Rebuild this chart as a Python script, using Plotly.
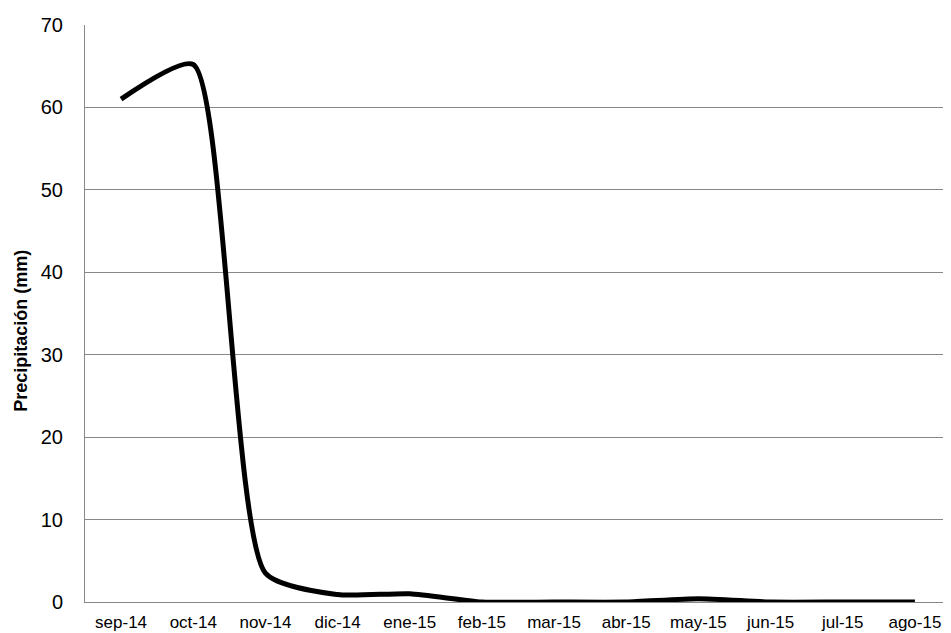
import plotly.graph_objects as go

months = ["sep-14", "oct-14", "nov-14", "dic-14", "ene-15", "feb-15", "mar-15",
          "abr-15", "may-15", "jun-15", "jul-15", "ago-15"]
precip = [61.0, 65.2, 3.5, 0.9, 1.0, 0.0, 0.0, 0.0, 0.4, 0.0, 0.0, 0.0]
y_ticks = [0, 10, 20, 30, 40, 50, 60, 70]

fig = go.Figure()
fig.add_trace(go.Scatter(
    x=months, y=precip, mode="lines",
    line=dict(color="black", width=5, shape="spline", smoothing=0.6),
    showlegend=False, hoverinfo="x+y",
))

fig.update_layout(
    width=943, height=625,
    margin=dict(l=77, r=0, t=17, b=31),
    plot_bgcolor="white", paper_bgcolor="white",
    font=dict(family="Liberation Sans, Arial, sans-serif", size=16, color="black"),
)
fig.update_xaxes(
    type="category", range=[-0.5, 11.5],
    showgrid=False, showline=True, linecolor="#888888", linewidth=1,
    ticks="", ticklabelstandoff=5, tickfont=dict(size=17),
)
fig.update_yaxes(
    range=[0, 70], tickvals=y_ticks,
    showgrid=True, gridcolor="#888888", gridwidth=1,
    showline=True, linecolor="#888888", linewidth=1,
    zeroline=False, ticks="", ticklabelstandoff=17,
    tickfont=dict(size=20),
)
fig.add_annotation(
    text="<b>Precipitación (mm)</b>", textangle=-90,
    xref="paper", yref="paper", x=-0.074, y=0.47,
    xanchor="center", yanchor="middle",
    showarrow=False, font=dict(size=18),
)

fig.write_html("out.html")
